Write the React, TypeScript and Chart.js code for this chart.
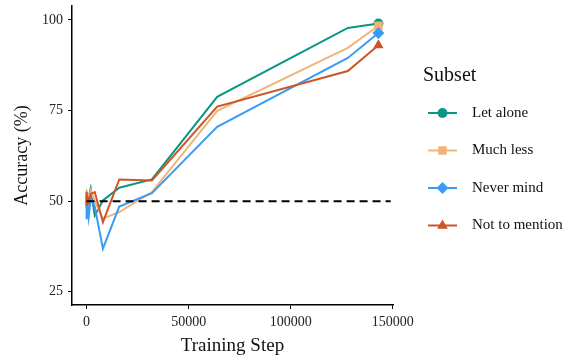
import React, { useEffect, useRef } from "react";
import { Chart, registerables } from "chart.js";

Chart.register(...registerables);

const steps = [0, 1, 2, 4, 8, 16, 32, 64, 128, 256, 512, 1000, 2000, 4000, 8000, 16000, 32000, 64000, 128000, 143000];
const letAlone = [51, 49, 52, 50, 48, 51, 50, 52, 49, 51, 50, 51, 53.5, 46, 50.2, 53.7, 56, 78.8, 97.8, 99];
const muchLess = [50, 52, 48, 51, 49, 53, 50, 48, 51, 50, 52, 50.5, 53, 50, 45.2, 47, 52.5, 74.9, 92.3, 98.4];
const neverMind = [50, 46, 51, 48, 45, 50, 47, 51, 46, 49, 48, 45.5, 51, 48.5, 36.9, 48.5, 52.2, 70.5, 89.5, 96.4];
const notToMention = [52.5, 50, 51, 49, 52, 50, 51.5, 50, 52, 49, 51, 50, 52, 52.5, 44.2, 56, 55.7, 76.1, 85.9, 93];
const chanceX = [0, 149000];
const chanceY = [50, 50];
const xTicks = [0, 50000, 100000, 150000];
const yTicks = [25, 50, 75, 100];
const seriesNames = ["Let alone", "Much less", "Never mind", "Not to mention"];
const seriesColors = ["#0B9582", "#F0B47A", "#3A9BF7", "#CB5529"];
const seriesMarkers = ["circle", "rect", "rectRot", "triangle"];
const markerSizes = [5, 6, 6, 6];

const SERIF = "'Liberation Serif', 'DejaVu Serif', serif";

function drawMarker(ctx: CanvasRenderingContext2D, style: string, x: number, y: number, r: number) {
  ctx.beginPath();
  if (style === "circle") {
    ctx.arc(x, y, r, 0, Math.PI * 2);
  } else if (style === "rect") {
    const s = r * Math.SQRT1_2;
    ctx.rect(x - s, y - s, 2 * s, 2 * s);
  } else if (style === "rectRot") {
    ctx.moveTo(x, y - r);
    ctx.lineTo(x + r, y);
    ctx.lineTo(x, y + r);
    ctx.lineTo(x - r, y);
    ctx.closePath();
  } else if (style === "triangle") {
    ctx.moveTo(x, y - r);
    ctx.lineTo(x + r * 0.9, y + r * 0.55);
    ctx.lineTo(x - r * 0.9, y + r * 0.55);
    ctx.closePath();
  }
  ctx.fill();
}

const legendPlugin = {
  id: "customLegend",
  afterDraw(chart: any) {
    const ctx = chart.ctx as CanvasRenderingContext2D;
    ctx.save();
    ctx.fillStyle = "#111";
    ctx.textAlign = "left";
    ctx.textBaseline = "middle";
    ctx.font = `20px ${SERIF}`;
    ctx.fillText("Subset", 423, 76);
    const ys = [113, 150.5, 188, 225.5];
    seriesNames.forEach((name, i) => {
      const y = ys[i];
      ctx.strokeStyle = seriesColors[i];
      ctx.lineWidth = 2;
      ctx.beginPath();
      ctx.moveTo(428, y);
      ctx.lineTo(457, y);
      ctx.stroke();
      ctx.fillStyle = seriesColors[i];
      drawMarker(ctx, seriesMarkers[i], 442.5, y, markerSizes[i]);
      ctx.fillStyle = "#111";
      ctx.font = `15px ${SERIF}`;
      ctx.fillText(name, 472, y);
    });
    ctx.restore();
  },
};

export default function App() {
  const ref = useRef<HTMLCanvasElement | null>(null);
  useEffect(() => {
    if (!ref.current) return;
    const series = [letAlone, muchLess, neverMind, notToMention];
    const last = steps.length - 1;
    const datasets: any[] = series.map((vals, i) => ({
      label: seriesNames[i],
      data: steps.map((s, j) => ({ x: s, y: vals[j] })),
      borderColor: seriesColors[i],
      backgroundColor: seriesColors[i],
      borderWidth: 2,
      pointStyle: seriesMarkers[i],
      pointRadius: (c: any) => (c.dataIndex === last ? markerSizes[i] : 0),
      pointBorderWidth: 0,
      pointHoverRadius: 0,
      tension: 0,
      order: 4 - i,
    }));
    datasets.push({
      label: "chance",
      data: chanceX.map((x, j) => ({ x, y: chanceY[j] })),
      borderColor: "#000",
      borderWidth: 2,
      borderDash: [8, 5],
      pointRadius: 0,
      order: 0,
    });
    const chart = new Chart(ref.current, {
      type: "line",
      data: { datasets },
      options: {
        animation: false,
        responsive: false,
        layout: { padding: { left: 0, right: 179, top: 5, bottom: 0 } },
        plugins: { legend: { display: false }, tooltip: { enabled: false } },
        scales: {
          x: {
            type: "linear",
            min: -7150,
            max: 150150,
            afterBuildTicks: (s: any) => {
              s.ticks = xTicks.map((v) => ({ value: v }));
            },
            afterFit: (s: any) => {
              s.height = 54;
              s.paddingLeft = 0;
              s.paddingRight = 0;
            },
            grid: { drawOnChartArea: false, drawTicks: true, tickLength: 4, color: "#000", lineWidth: 1 },
            border: { display: true, color: "#000", width: 1.5 },
            ticks: {
              color: "#222",
              font: { family: SERIF, size: 14 },
              padding: 5,
              maxRotation: 0,
              callback: (v: any) => String(v),
            },
            title: {
              display: true,
              text: "Training Step",
              color: "#111",
              font: { family: SERIF, size: 19 },
              padding: { top: 0, bottom: 2 },
            },
          },
          y: {
            type: "linear",
            min: 21.35,
            max: 103.85,
            afterBuildTicks: (s: any) => {
              s.ticks = yTicks.map((v) => ({ value: v }));
            },
            afterFit: (s: any) => {
              s.width = 72;
              s.paddingTop = 0;
              s.paddingBottom = 0;
            },
            grid: { drawOnChartArea: false, drawTicks: true, tickLength: 4, color: "#000", lineWidth: 1 },
            border: { display: true, color: "#000", width: 1.5 },
            ticks: {
              color: "#222",
              font: { family: SERIF, size: 14 },
              padding: 5,
              callback: (v: any) => String(v),
            },
            title: {
              display: true,
              text: "Accuracy (%)",
              color: "#111",
              font: { family: SERIF, size: 18 },
              padding: { top: 11, bottom: 0 },
            },
          },
        },
      },
      plugins: [legendPlugin],
    });
    return () => chart.destroy();
  }, []);
  return (
    <div style={{ position: "fixed", left: 0, top: 0, width: 572, height: 359, background: "#fff" }}>
      <canvas ref={ref} width={572} height={359} style={{ width: 572, height: 359 }} />
    </div>
  );
}
